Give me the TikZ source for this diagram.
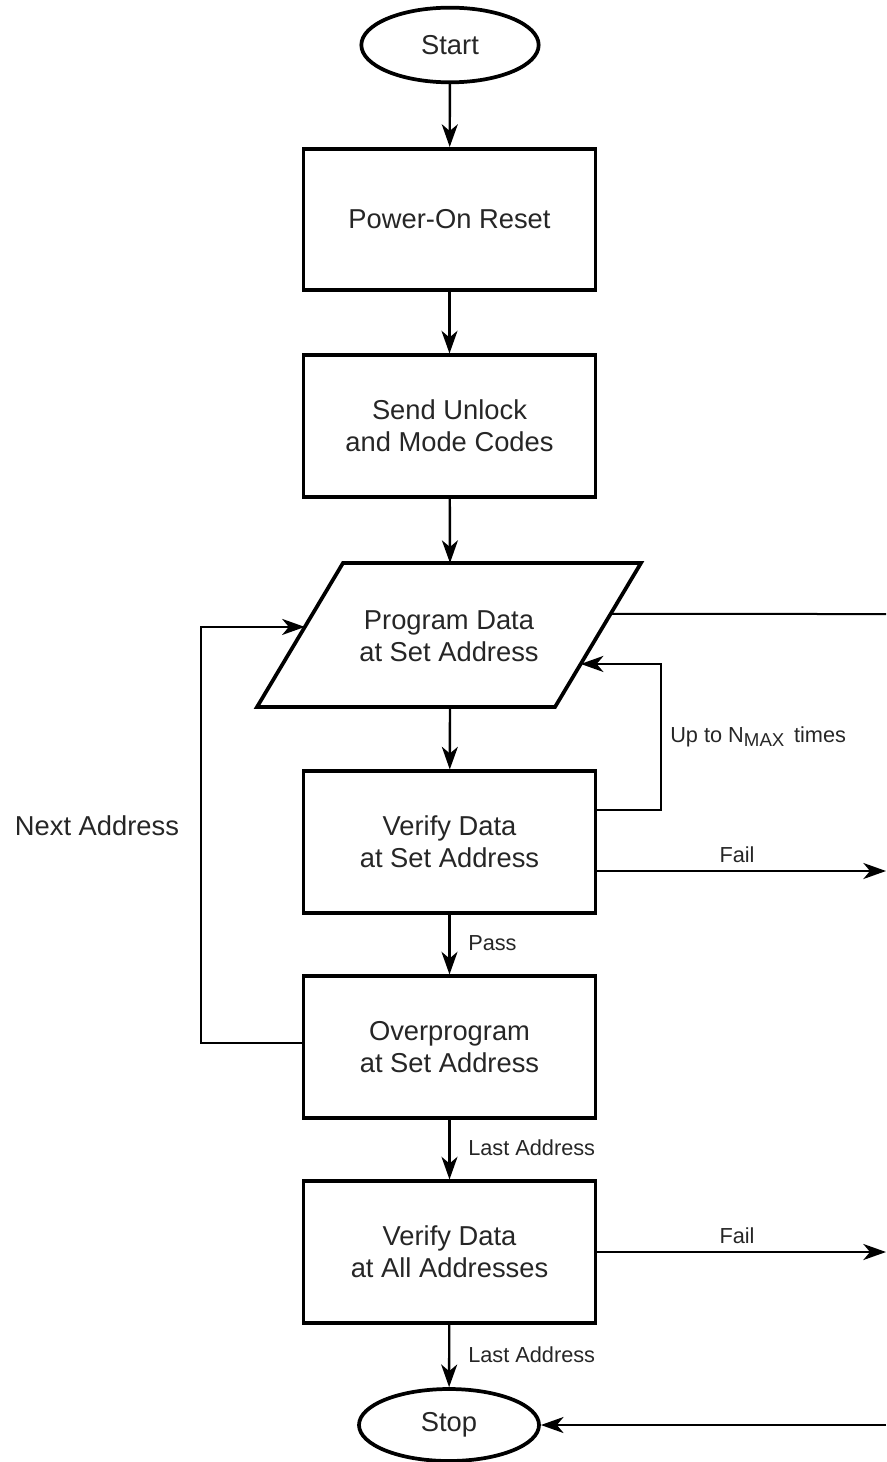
\documentclass[tikz,border=0pt]{standalone}
\usepackage{fontspec}
\setmainfont{Liberation Sans}
\usetikzlibrary{shapes.geometric,arrows.meta,calc}
\begin{document}
\begin{tikzpicture}[x=0.75pt,y=-0.75pt,
  txt/.style={text=black!85},
  mainfont/.style={font=\fontsize{20.5}{24}\selectfont},
  smallfont/.style={font=\fontsize{16.3}{19}\selectfont},
  procbox/.style={draw, line width=2.8pt, rectangle, minimum width=219pt, minimum height=106pt, align=center, mainfont, txt},
  term/.style={draw, line width=2.8pt, ellipse, inner sep=0pt, mainfont, txt},
  conn/.style={line width=1.8pt, -{Stealth[length=17pt,width=12pt,inset=5pt]}},
  plain/.style={line width=1.5pt},
  lbl/.style={smallfont, txt, inner sep=0pt}
]
\useasboundingbox (0,0) rectangle (886,1462);

% terminals and boxes
\node[term, minimum width=133pt, minimum height=56pt] (start) at (450,45) {Start};
\node[procbox] (b1) at (449.5,219.5) {Power-On Reset};
\node[procbox] (b2) at (449.5,426) {Send Unlock\\and Mode Codes};
\node[procbox] (b3) at (449.5,842) {Verify Data\\at Set Address};
\node[procbox] (b4) at (449.5,1047) {Overprogram\\at Set Address};
\node[procbox] (b5) at (449.5,1252) {Verify Data\\at All Addresses};
\node[term, minimum width=135pt, minimum height=54pt] (stop) at (449,1425) {Stop};

% parallelogram
\coordinate (ptl) at (343,563);
\coordinate (ptr) at (641,563);
\coordinate (pbr) at (555,707);
\coordinate (pbl) at (257,707);
\draw[line width=2.8pt, line join=miter] (ptl) -- (ptr) -- (pbr) -- (pbl) -- cycle;
\node[align=center, mainfont, txt] (prog) at (449,636) {Program Data\\at Set Address};
\coordinate (ptop) at (450,563);
\coordinate (pbot) at (450,707);
\coordinate (pr1) at ($(ptr)!0.354!(pbr)$);
\coordinate (pr2) at ($(ptr)!0.701!(pbr)$);
\coordinate (pl1) at ($(ptl)!0.444!(pbl)$);

% main flow
\draw[conn] (start) -- (b1);
\draw[conn] (b1) -- (b2);
\draw[conn] (b2) -- (ptop);
\draw[conn] (pbot) -- (b3);
\draw[conn] (b3) -- (b4);
\draw[conn] (b4) -- (b5);
\draw[conn] (b5) -- (stop);

% right side
\coordinate (rA) at (886,614);
\draw[plain] (pr1) -- (rA);
\coordinate (fb) at (661,810);
\draw[conn] (fb -| b3.east) -- (fb) |- (pr2);
\coordinate (f1) at (886,871);
\draw[conn] (f1 -| b3.east) -- (f1);
\coordinate (f2) at (886,1252);
\draw[conn] (f2 -| b5.east) -- (f2);
\coordinate (rS) at (886,1425);
\draw[conn] (rS) -- (stop.east);

% left loop
\coordinate (lp) at (201,1043);
\draw[conn] (lp -| b4.west) -- (lp) |- (pl1);

% labels
\node[lbl, anchor=west] (lpass) at (468,943) {Pass};
\node[lbl, anchor=west] (llast1) at (468,1148) {Last Address};
\node[lbl, anchor=west] (llast2) at (468,1355) {Last Address};
\node[lbl] (lfail1) at (737,855) {Fail};
\node[lbl] (lfail2) at (737,1236) {Fail};
\node[lbl, anchor=west] (lupto) at (670,737) {Up to N\raisebox{-0.3ex}{\fontsize{14}{16}\selectfont MAX}\, times};
\node[mainfont, txt, inner sep=0pt] (lnext) at (97,826) {Next Address};
\end{tikzpicture}
\end{document}
